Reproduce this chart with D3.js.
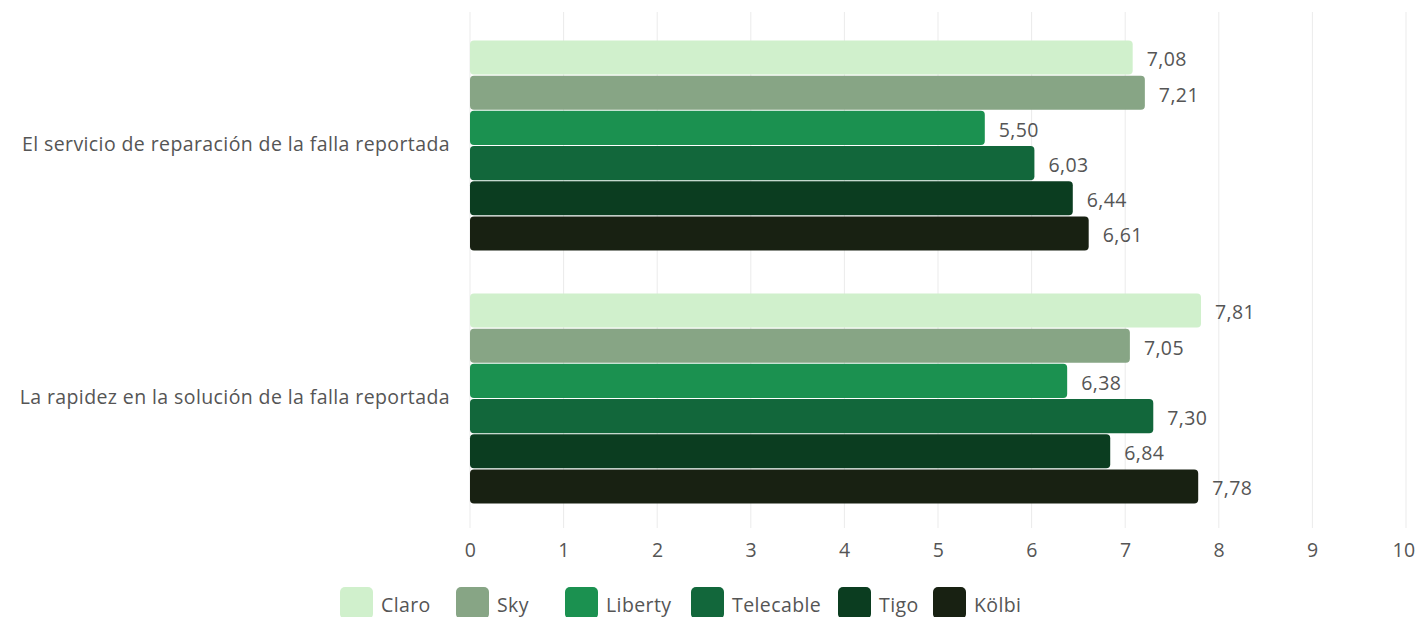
<!DOCTYPE html>
<html><head><meta charset="utf-8">
<script src="https://cdn.jsdelivr.net/npm/d3@7"></script>
<style>
body{margin:0;background:#fff;}
svg text{font-family:"Open Sans",Lato,sans-serif;fill:#555;letter-spacing:0.4px;}
</style></head><body>
<svg id="c" width="1416" height="617"></svg>
<script>
const categories = ["El servicio de reparación de la falla reportada","La rapidez en la solución de la falla reportada"];
const series = ["Claro","Sky","Liberty","Telecable","Tigo","Kölbi"];
const colors = ["#d0f0cc","#87a585","#1b9150","#12673b","#0b3d20","#182112"];
const valuesClaro = [7.08, 7.81];
const valuesSky = [7.21, 7.05];
const valuesLiberty = [5.50, 6.38];
const valuesTelecable = [6.03, 7.30];
const valuesTigo = [6.44, 6.84];
const valuesKolbi = [6.61, 7.78];
const allValues = [valuesClaro, valuesSky, valuesLiberty, valuesTelecable, valuesTigo, valuesKolbi];
const xTicks = [0,1,2,3,4,5,6,7,8,9,10];

(function(){
const svg = d3.select("#c");
const mLeft = 470, mRight = 1406, mTop = 12, mBottom = 528;
const fs = 19.5;
const x = d3.scaleLinear().domain([0,10]).range([mLeft,mRight]);
const y0 = d3.scaleBand().domain(categories).range([mTop+7, mBottom-3]).paddingInner(0.17).paddingOuter(0.085);
const y1 = d3.scaleBand().domain(series).range([0, y0.bandwidth()]).paddingInner(0.03);

svg.append("g").selectAll("line").data(xTicks).join("line")
  .attr("x1", d=>x(d)).attr("x2", d=>x(d)).attr("y1", mTop).attr("y2", mBottom)
  .attr("stroke", "#ebebeb").attr("stroke-width", 1);

const xAxis = d3.axisBottom(x).tickValues(xTicks).tickSize(0).tickPadding(0);
const ax = svg.append("g").attr("transform", `translate(0,${mBottom+17})`).call(xAxis);
ax.select(".domain").remove();
ax.selectAll("text").attr("font-size", fs).attr("dy", "0.6em").style("fill","#555").style("font-family","'Open Sans',sans-serif")
  .filter(d => d === 10).attr("text-anchor", "end").attr("x", 1415 - x(10));

const yAxis = d3.axisLeft(y0).tickSize(0).tickPadding(20);
const ay = svg.append("g").attr("transform", `translate(${mLeft},0)`).call(yAxis);
ay.select(".domain").remove();
ay.selectAll("text").attr("font-size", fs).style("fill","#555").style("font-family","'Open Sans',sans-serif").attr("dy","0.3em");

categories.forEach((c, ci) => {
  const g = svg.append("g").attr("transform", `translate(0,${y0(c)})`);
  series.forEach((s, si) => {
    const v = allValues[si][ci];
    g.append("rect")
      .attr("x", x(0)).attr("y", y1(s))
      .attr("width", x(v)-x(0)).attr("height", y1.bandwidth())
      .attr("rx", 4).attr("ry", 4)
      .attr("fill", colors[si]);
    g.append("text")
      .attr("x", x(v)+14).attr("y", y1(s)+y1.bandwidth()/2+2)
      .attr("dy","0.35em").attr("font-size", fs)
      .text(v.toFixed(2).replace(".", ","));
  });
});

const legendX = [340, 456, 565, 691, 838, 933];
const lg = svg.append("g");
series.forEach((s, i) => {
  const gg = lg.append("g").attr("transform", `translate(${legendX[i]},587)`);
  gg.append("rect").attr("width", 33).attr("height", 32).attr("rx", 5).attr("fill", colors[i]);
  gg.append("text").attr("x", 41).attr("y", 18).attr("dy","0.35em").attr("font-size", fs).text(s);
});
})();
</script>
</body></html>
